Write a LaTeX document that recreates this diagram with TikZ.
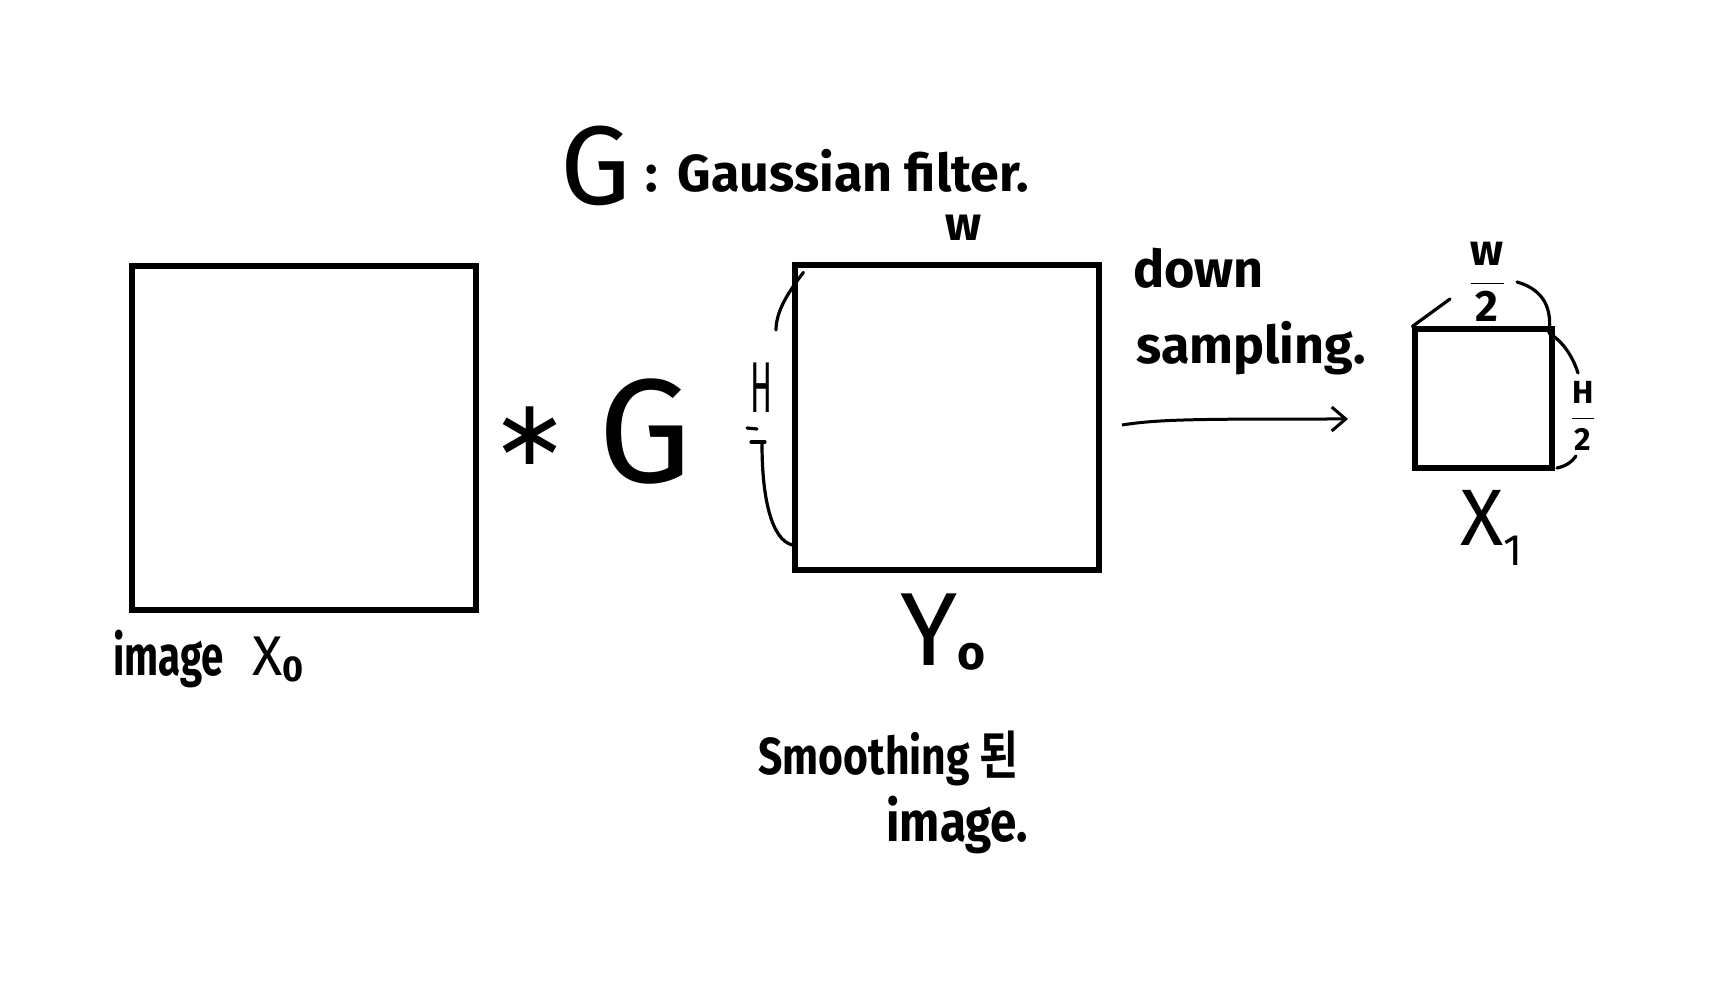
\documentclass[tikz,border=0pt]{standalone}
\usepackage{fontspec}
\setmainfont{Fira Sans}
\newfontfamily\kr{Noto Sans CJK KR}[BoldFont={* Bold}]
\newfontfamily\dv{DejaVu Sans}
\usetikzlibrary{arrows.meta}
\begin{document}
\begin{tikzpicture}[x=0.5pt,y=-0.5pt,
  box/.style={draw,line width=2.6pt,inner sep=0pt},
  thin/.style={line width=1.6pt,line cap=round},
  hand/.style={inner sep=0pt,font=\bfseries}]
\useasboundingbox[fill=white] (0,0) rectangle (1716,999);
% boxes
\node[box,minimum width=172pt,minimum height=172pt] (x0) at (304,438) {};
\node[box,minimum width=152pt,minimum height=152.5pt] (y0) at (947,417.5) {};
\node[box,minimum width=68.5pt,minimum height=69.5pt] (x1) at (1483.5,398.5) {};
% title
\node[hand,anchor=base west,font=\fontsize{56}{56}\selectfont] (tG) at (560,205) {G};
\node[hand,anchor=base west,font=\bfseries\fontsize{26}{26}\selectfont] (title) at (645,192) {:\hspace{10pt}Gaussian filter.};
% * G
\node[inner sep=0pt,font=\dv\fontsize{46}{46}\selectfont] (star) at (530,436) {∗};
\node[inner sep=0pt,font=\fontsize{74}{74}\selectfont] (bigG) at (645,432) {G};
% Y0 labels
\node[hand,font=\bfseries\fontsize{24}{24}\selectfont] (w) at (963,228) {w};
\node[inner sep=0pt,font=\fontsize{36}{36}\selectfont] (H) at (762,388) {\scalebox{0.45}[1]{H}};
\draw[thin] (y0.north west) ++(11,10) coordinate (h1) .. controls (790,290) and (776,310) .. (776,330);
\draw[thin] (747,428) -- (757,429);
\draw[thin] (751,442) -- (765,442);
\draw[thin] (762,444) .. controls (762,500) and (772,540) .. (y0.west |- 0,545);
% down sampling arrow
\node[hand,anchor=west,font=\bfseries\fontsize{26}{26}\selectfont] (down) at (1133,268) {down};
\node[hand,anchor=west,font=\bfseries\fontsize{26}{26}\selectfont] (samp) at (1136,348) {sampling.};
\coordinate (aS) at (1122,425);
\coordinate (aE) at (1348,419);
\draw[line width=1.5pt,-{Straight Barb[length=7pt,width=12pt,line width=1.5pt]}] (aS) .. controls (1160,419) and (1200,419) .. (aE);
% X1 labels
\node[inner sep=0pt,font=\bfseries\fontsize{22}{22}\selectfont] (w2) at (1487,282) {$\displaystyle\frac{\mbox{w}}{\mbox{2}}$};
\node[inner sep=0pt,font=\bfseries\fontsize{16}{16}\selectfont] (h2) at (1583,416) {$\displaystyle\frac{\mbox{H}}{\mbox{2}}$};
\draw[thin] (x1.north west) -- (1450,299);
\draw[thin] (1517,282) .. controls (1545,290) and (1552,310) .. (1549,333);
\draw[thin] (1549,333) .. controls (1563,342) and (1572,355) .. (1578,373);
\draw[thin] (1557,468) .. controls (1566,466) and (1572,462) .. (1576,456);
\node[inner sep=0pt,anchor=base west,font=\fontsize{40}{40}\selectfont] (x1lab) at (1460,545) {X\raisebox{-10pt}{\fontsize{22}{22}\selectfont 1}};
% X0 label
\node[hand,anchor=base west,font=\bfseries\fontsize{28}{28}\selectfont] (x0lab) at (113,675) {\scalebox{0.72}[1]{image}\hspace{14pt}\mdseries X\raisebox{-3pt}{\bfseries\fontsize{18}{18}\selectfont 0}};
% Y0 label
\node[inner sep=0pt,anchor=base west,font=\fontsize{52}{52}\selectfont] (y0lab) at (900,665) {Y\raisebox{-2pt}{\bfseries\fontsize{24}{24}\selectfont o}};
\node[hand,anchor=west,font=\bfseries\fontsize{26}{26}\selectfont] (sm) at (758,758) {\scalebox{0.82}[1]{Smoothing {\kr\bfseries 된}}};
\node[hand,anchor=west,font=\bfseries\fontsize{28}{28}\selectfont] (img) at (886,825) {\scalebox{0.85}[1]{image.}};
\end{tikzpicture}
\end{document}
